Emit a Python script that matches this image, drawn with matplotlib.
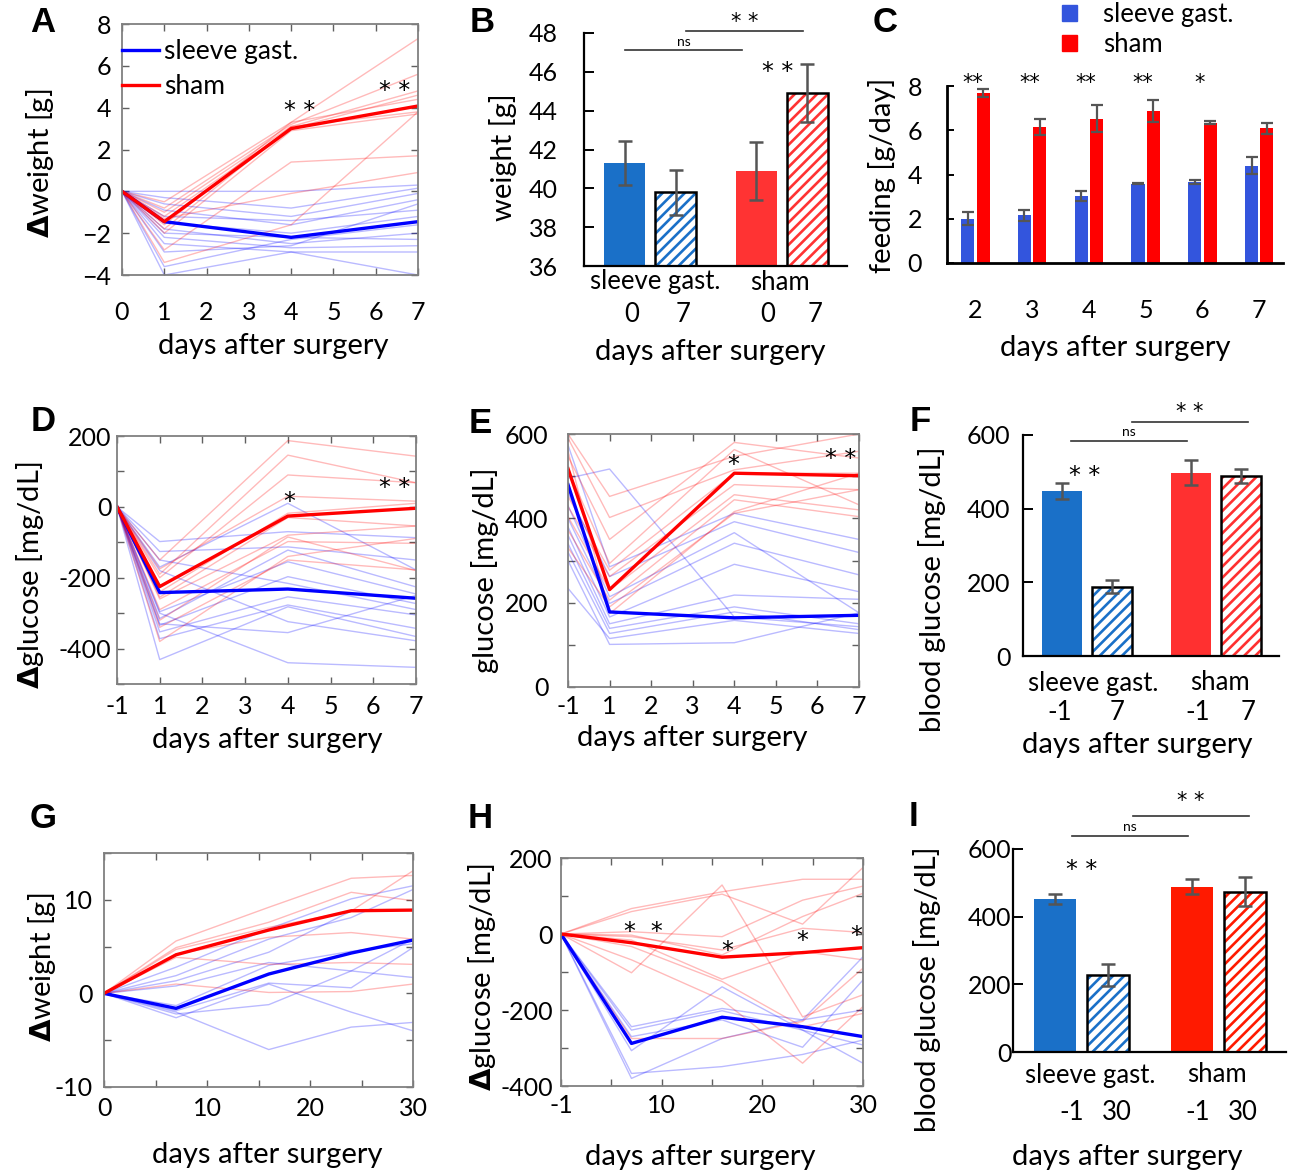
import matplotlib
matplotlib.use("Agg")
import matplotlib.pyplot as plt
from matplotlib.patches import Patch

W, H = 1292, 1171
plt.rcParams['font.family'] = ['Lato', 'DejaVu Sans']
plt.rcParams['hatch.linewidth'] = 1.9

BLUE = '#0000ff'
RED = '#ff0000'
TICK = 18
LAB = 21

# ---------------- data ----------------
# A: change of body weight, days 0-7
a_days = [0, 1, 4, 7]
a_sg_mean = [0, -1.45, -2.2, -1.45]
a_sham_mean = [0, -1.45, 3.0, 4.08]
a_sg_ind = [[0, 0.0, 0.0, 0.3], [0, -0.3, -0.8, 0.15], [0, -0.6, -1.2, -0.1],
            [0, -0.9, -1.6, -0.4], [0, -1.2, -1.4, -0.9], [0, -1.5, -2.0, -1.2],
            [0, -1.8, -2.5, -2.0], [0, -2.0, -2.2, -2.3], [0, -2.2, -2.7, -2.6],
            [0, -2.5, -2.9, -2.9], [0, -2.9, -2.6, -0.6], [0, -4.0, -2.9, -4.0],
            [0, -3.6, -2.3, -1.6]]
a_sham_ind = [[0, -0.5, 3.3, 7.3], [0, -0.8, 3.2, 5.6], [0, -1.0, 3.1, 4.8],
              [0, -1.2, 3.0, 4.6], [0, -1.6, 3.3, 4.4], [0, -1.8, 3.1, 3.8],
              [0, -2.0, 2.9, 3.7], [0, -2.8, 1.4, 1.7], [0, -3.4, -1.6, 3.8],
              [0, -1.3, -0.1, 0.9]]

# B: body weight before / 7 days after surgery
b_vals = [41.3, 39.8, 40.9, 44.9]
b_errs = [1.15, 1.15, 1.5, 1.5]

# C: daily food intake
c_days = [2, 3, 4, 5, 6, 7]
c_sg = [2.0, 2.16, 3.02, 3.59, 3.67, 4.39]
c_sg_err = [0.3, 0.25, 0.24, 0.03, 0.1, 0.38]
c_sham = [7.69, 6.15, 6.53, 6.88, 6.33, 6.08]
c_sham_err = [0.17, 0.37, 0.62, 0.5, 0.07, 0.24]
c_sig = ['**', '**', '**', '**', '*', '']

# D: change of glucose, days -1..7
d_days = [-1, 1, 4, 7]
d_sg_mean = [0, -242, -232, -258]
d_sham_mean = [0, -225, -26, -4]
d_sg_ind = [[0, -98, -70, -87], [0, -170, 10, -178], [0, -126, -113, -150],
            [0, -296, -155, -246], [0, -315, -122, -226], [0, -334, -197, -273],
            [0, -150, -216, -290], [0, -353, -254, -305], [0, -372, -277, -343],
            [0, -431, -282, -366], [0, -180, -324, -378], [0, -300, -440, -453],
            [0, -330, -355, -250]]
d_sham_ind = [[0, -150, 187, 143], [0, -190, 146, 68], [0, -200, 90, 68],
              [0, -175, 30, 16], [0, -240, -18, 10], [0, -260, -80, -54],
              [0, -290, -98, -103], [0, -340, -150, -178], [0, -380, -140, -89],
              [0, -255, -30, -54], [0, -320, -85, -180]]

# E: glucose, days -1..7
e_days = [-1, 1, 4, 7]
e_sg_mean = [480, 178, 164, 170]
e_sham_mean = [518, 231, 507, 501]
e_sg_ind = [[495, 517, 166, 143], [574, 285, 412, 350], [460, 262, 392, 319],
            [430, 214, 366, 176], [400, 198, 341, 266], [380, 166, 291, 226],
            [360, 150, 218, 208], [340, 139, 190, 150], [320, 127, 178, 136],
            [234, 115, 158, 127], [300, 101, 105, 176]]
e_sham_ind = [[600, 452, 547, 600], [590, 402, 515, 559], [547, 350, 580, 543],
              [515, 293, 563, 432], [452, 277, 507, 507], [428, 262, 480, 468],
              [404, 230, 456, 420], [372, 206, 444, 404], [330, 190, 412, 468],
              [560, 174, 416, 507]]

# F: blood glucose day -1 / day 7
f_vals = [448, 188, 498, 489]
f_errs = [23, 17, 33, 20]

# G: change of body weight, days 0..30
g_days = [0, 7, 16, 24, 30]
g_sg_mean = [0, -1.6, 2.07, 4.31, 5.7]
g_sham_mean = [0, 4.13, 6.77, 8.83, 8.9]
g_sg_ind = [[0, 2.8, 6.9, 10.1, 11.5], [0, 1.9, 5.8, 8.1, 11.1], [0, 1.35, 4.4, 8.8, 8.9],
            [0, 0.8, 3.3, 2.4, 1.7], [0, -1.3, 3.0, 4.5, 5.3], [0, -1.85, 1.1, 0.6, 4.9],
            [0, -2.2, -1.2, 2.4, 5.8], [0, -2.6, 1.0, -2.0, -4.0], [0, -2.0, -6.0, -3.6, -3.1]]
g_sham_ind = [[0, 5.6, 9.2, 12.3, 12.6], [0, 4.9, 7.6, 10.8, 9.9], [0, 4.7, 7.05, 8.8, 13.1],
              [0, 4.2, 6.0, 6.5, 5.8], [0, 3.85, 3.1, 3.3, 3.1], [0, 1.0, 0.1, 0.2, 1.0]]

# H: change of glucose, days -1..30
h_days = [-1, 7, 16, 24, 30]
h_sg_mean = [0, -288, -219, -244, -270]
h_sham_mean = [0, -23, -61, -49, -36]
h_sg_ind = [[0, -244, -196, -226, -60], [0, -253, -202, -253, -340],
            [0, -270, -226, -298, -121], [0, -307, -139, -253, -292],
            [0, -380, -275, -226, -200], [0, -367, -349, -317, -279]]
h_sham_ind = [[0, 67, 111, 144, 144], [0, 59, 105, 26, 175], [0, 6, -7, 89, 126],
              [0, -3, -55, 46, 107], [0, -7, -42, 15, 4], [0, -16, -119, -46, -68],
              [0, -102, 129, -218, -160], [0, -33, -125, -244, -209],
              [0, -68, -174, -340, -191], [0, -275, -275, -230, -90]]

# I: blood glucose day -1 / day 30
i_vals = [453, 227, 488, 474]
i_errs = [15, 33, 22, 43]

bar_pos = [0, 1, 2.58, 3.58]

# ---------------- helpers ----------------
fig = plt.figure(figsize=(W / 100, H / 100), dpi=100)


def add_ax(l, t, r, b):
    return fig.add_axes([l / W, 1 - b / H, (r - l) / W, (b - t) / H])


def ftext(x, y, s, **kw):
    fig.text(x / W, 1 - y / H, s, **kw)


def letter(x, y, s):
    ftext(x, y, s, family='Liberation Sans', fontweight='bold', fontsize=25,
          ha='center', va='center')


def ylab(x, y, s, size=LAB):
    ftext(x, y, s, rotation=90, ha='center', va='center', fontsize=size)


def xlab(x, y, s='days after surgery'):
    ftext(x, y, s, ha='center', va='center', fontsize=LAB)


def star(ax, x, y, s, size=17):
    # significance marks
    ax.text(x, y, s, ha='center', va='center', fontsize=size,
            family='DejaVu Sans', clip_on=False)


def line_panel(ax, xpos, sg_ind, sham_ind, sg_mean, sham_mean, xpad, ypad):
    for row in sg_ind:
        ax.plot(xpos, row, color=BLUE, lw=1, alpha=0.27)
    for row in sham_ind:
        ax.plot(xpos, row, color=RED, lw=1, alpha=0.27)
    ax.plot(xpos, sg_mean, color=BLUE, lw=2.4, label='sleeve gast.')
    ax.plot(xpos, sham_mean, color=RED, lw=2.4, label='sham')
    ax.tick_params(direction='in', top=True, right=True, length=5, width=1,
                   color='#606060', labelsize=TICK)
    ax.tick_params(axis='x', pad=xpad)
    ax.tick_params(axis='y', pad=ypad)
    for s in ax.spines.values():
        s.set_color('#808080')
        s.set_linewidth(1.3)


def bar_panel(ax, vals, errs, cblue, cred, ypad):
    colors = [cblue, cblue, cred, cred]
    for i in range(4):
        if i % 2 == 0:
            ax.bar(bar_pos[i], vals[i], width=0.8, color=colors[i], lw=0)
        else:
            ax.bar(bar_pos[i], vals[i], width=0.8, color='white',
                   edgecolor=colors[i], hatch='///', lw=0)
            ax.bar(bar_pos[i], vals[i], width=0.8, fill=False,
                   edgecolor='black', lw=1.8)
    ax.errorbar(bar_pos, vals, yerr=errs, fmt='none', ecolor='#555555',
                elinewidth=1.8, capsize=5, capthick=1.8)
    ax.spines[['top', 'right']].set_visible(False)
    for s in ['left', 'bottom']:
        ax.spines[s].set_linewidth(1.6)
    ax.set_xticks([])
    ax.tick_params(axis='y', direction='in', length=7, width=1.4,
                   labelsize=TICK, pad=ypad)
    ax.set_xlim(-0.8, 4.36)


def bracket(ax, x1, x2, y, s, dy, size, family=None):
    ax.plot([x1, x2], [y, y], color='#333333', lw=1.2, clip_on=False)
    ax.text((x1 + x2) / 2, y + dy, s, ha='center', va='center',
            fontsize=size, clip_on=False, family=family)


# ---------------- A ----------------
axA = add_ax(122, 24, 418, 275)
line_panel(axA, a_days, a_sg_ind, a_sham_ind, a_sg_mean, a_sham_mean, 19, 8)
axA.set_xlim(0, 7)
axA.set_ylim(-4, 8)
axA.set_xticks(range(8))
axA.set_yticks(range(-4, 9, 2))
axA.legend(loc='upper left', frameon=False, fontsize=19, handlelength=1.4,
           handletextpad=0.2, borderaxespad=0.0, borderpad=0.0, labelspacing=0.38,
           bbox_to_anchor=(0.0, 0.94))
star(axA, 4.2, 3.85, '* *')
star(axA, 6.45, 4.8, '* *')
letter(43, 22, 'A')
ylab(40, 163, r'$\mathbf{\Delta}$weight [g]')
xlab(273, 346)

# ---------------- B ----------------
axB = add_ax(584, 33, 847, 266)
bar_panel(axB, b_vals, b_errs, '#1a70c8', '#ff3333', 19)
axB.set_ylim(36, 48)
axB.set_yticks(range(36, 49, 2))
bracket(axB, 0.0, 2.3, 47.1, 'ns', 0.45, 10)
bracket(axB, 1.2, 3.5, 48.1, '* *', 0.45, 15, 'DejaVu Sans')
star(axB, 3.0, 46.0, '* *')
letter(482, 22, 'B')
ylab(503, 157, 'weight [g]')
ftext(655, 282, 'sleeve gast.', ha='center', va='center', fontsize=TICK + 0.5)
ftext(780, 282, 'sham', ha='center', va='center', fontsize=TICK + 0.5)
for x, s in zip([632, 683, 768, 815], ['0', '7', '0', '7']):
    ftext(x, 314, s, ha='center', va='center', fontsize=TICK + 0.5)
xlab(710, 352)

# ---------------- C ----------------
axC = add_ax(947, 86, 1283, 263)
c_bw = 0.23
axC.bar([d - 0.135 for d in c_days], c_sg, width=c_bw, color='#3355dd')
axC.bar([d + 0.135 for d in c_days], c_sham, width=c_bw, color=RED)
axC.errorbar([d - 0.135 for d in c_days], c_sg, yerr=c_sg_err, fmt='none',
             ecolor='#555555', elinewidth=1.6, capsize=4.5, capthick=1.6)
axC.errorbar([d + 0.135 for d in c_days], c_sham, yerr=c_sham_err, fmt='none',
             ecolor='#555555', elinewidth=1.6, capsize=4.5, capthick=1.6)
for d, s in zip(c_days, c_sig):
    star(axC, d - 0.05, 8.15, s, size=15)
axC.set_xlim(1.5, 7.42)
axC.set_ylim(0, 8)
axC.set_xticks(c_days)
axC.set_yticks(range(0, 9, 2))
axC.spines[['top', 'right']].set_visible(False)
for s in ['left', 'bottom']:
    axC.spines[s].set_linewidth(2)
axC.tick_params(axis='y', direction='in', length=5, width=1.4, labelsize=TICK, pad=18)
axC.tick_params(axis='x', length=0, labelsize=TICK, pad=26)
fig.legend(handles=[Patch(color='#3355dd', label='sleeve gast.'),
                    Patch(color=RED, label='sham')],
           loc='upper left', bbox_to_anchor=(1062 / W, 1 - 2 / H), frameon=False,
           fontsize=TICK + 0.5, handlelength=0.6, handleheight=0.6, handletextpad=1.0,
           labelspacing=0.2, borderpad=0.0, borderaxespad=0.0)
letter(885, 22, 'C')
ylab(882, 175, 'feeding [g/day]')
xlab(1115, 348)

# ---------------- D ----------------
axD = add_ax(117, 436, 416, 684)
d_x = [max(d, 0) for d in d_days]
line_panel(axD, d_x, d_sg_ind, d_sham_ind, d_sg_mean, d_sham_mean, 8, 4)
axD.set_xlim(0, 7)
axD.set_ylim(-500, 200)
axD.set_xticks(range(8))
axD.set_xticklabels(['-1', '1', '2', '3', '4', '5', '6', '7'])
axD.set_yticks(range(-500, 201, 100))
axD.set_yticklabels(['', '-400', '', '-200', '', '0', '', '200'])
star(axD, 4.03, 15, '*')
star(axD, 6.5, 52, '* *')
letter(43, 422, 'D')
ylab(30, 575, r'$\mathbf{\Delta}$glucose [mg/dL]')
xlab(267, 740)

# ---------------- E ----------------
axE = add_ax(568, 434, 859, 687)
e_x = [max(d, 0) for d in e_days]
line_panel(axE, e_x, e_sg_ind, e_sham_ind, e_sg_mean, e_sham_mean, 6, 14)
axE.set_xlim(0, 7)
axE.set_ylim(0, 600)
axE.set_xticks(range(8))
axE.set_xticklabels(['-1', '1', '2', '3', '4', '5', '6', '7'])
axE.set_yticks(range(0, 601, 100))
axE.set_yticklabels(['0', '', '200', '', '400', '', '600'])
star(axE, 3.97, 527, '*')
star(axE, 6.55, 540, '* *')
letter(480, 423, 'E')
ylab(485, 570, 'glucose [mg/dL]')
xlab(692, 738)

# ---------------- F ----------------
axF = add_ax(1023, 435, 1279, 656)
bar_panel(axF, f_vals, f_errs, '#1a70c8', '#ff3030', 9)
axF.set_ylim(0, 600)
axF.set_yticks([0, 200, 400, 600])
axF.set_xlim(-0.77, 4.34)
bracket(axF, 0.18, 2.5, 584, 'ns', 24, 10)
bracket(axF, 1.4, 3.72, 636, '* *', 26, 15, 'DejaVu Sans')
star(axF, 0.46, 490, '* *')
letter(920, 422, 'F')
ylab(932, 589, 'blood glucose [mg/dL]')
ftext(1093, 683, 'sleeve gast.', ha='center', va='center', fontsize=TICK + 0.5)
ftext(1220, 683, 'sham', ha='center', va='center', fontsize=TICK + 0.5)
for x, s in zip([1060, 1117, 1198, 1248], ['-1', '7', '-1', '7']):
    ftext(x, 713, s, ha='center', va='center', fontsize=TICK + 0.5)
xlab(1137, 745)

# ---------------- G ----------------
axG = add_ax(104, 853, 413, 1087)
line_panel(axG, g_days, g_sg_ind, g_sham_ind, g_sg_mean, g_sham_mean, 7, 8)
axG.set_xlim(0, 30)
axG.set_ylim(-10, 15)
axG.set_xticks(range(0, 31, 5))
axG.set_xticklabels(['0', '', '10', '', '20', '', '30'])
axG.set_yticks(range(-10, 16, 5))
axG.set_yticklabels(['-10', '', '0', '', '10', ''])
letter(43, 818, 'G')
ylab(42, 967, r'$\mathbf{\Delta}$weight [g]')
xlab(267, 1155)

# ---------------- H ----------------
axH = add_ax(561, 858, 863, 1086)
h_x = [max(d, 0) for d in h_days]
line_panel(axH, h_x, h_sg_ind, h_sham_ind, h_sg_mean, h_sham_mean, 6, 6)
axH.set_xlim(0, 30)
axH.set_ylim(-400, 200)
axH.set_xticks(range(0, 31, 5))
axH.set_xticklabels(['-1', '', '10', '', '20', '', '30'])
axH.set_yticks(range(-400, 201, 100))
axH.set_yticklabels(['-400', '', '-200', '', '0', '', '200'])
star(axH, 8.2, 5, '*  *')
star(axH, 16.5, -44, '*')
star(axH, 24.0, -18, '*')
star(axH, 29.3, -4, '*')
letter(480, 818, 'H')
ylab(482, 977, r'$\mathbf{\Delta}$glucose [mg/dL]')
xlab(700, 1157)

# ---------------- I ----------------
axI = add_ax(1013, 849, 1286, 1052)
bar_panel(axI, i_vals, i_errs, '#1a70c8', '#ff1a00', 1)
axI.set_ylim(0, 600)
axI.set_yticks([0, 200, 400, 600])
bracket(axI, 0.31, 2.5, 639, 'ns', 25, 10)
bracket(axI, 1.47, 3.66, 697, '* *', 45, 15, 'DejaVu Sans')
star(axI, 0.5, 538, '* *')
letter(913, 817, 'I')
ylab(927, 989, 'blood glucose [mg/dL]')
ftext(1090, 1075, 'sleeve gast.', ha='center', va='center', fontsize=TICK + 0.5)
ftext(1217, 1075, 'sham', ha='center', va='center', fontsize=TICK + 0.5)
for x, s in zip([1072, 1117, 1198, 1243], ['-1', '30', '-1', '30']):
    ftext(x, 1113, s, ha='center', va='center', fontsize=TICK + 0.5)
xlab(1127, 1157)

fig.savefig('out.png', dpi=100)
